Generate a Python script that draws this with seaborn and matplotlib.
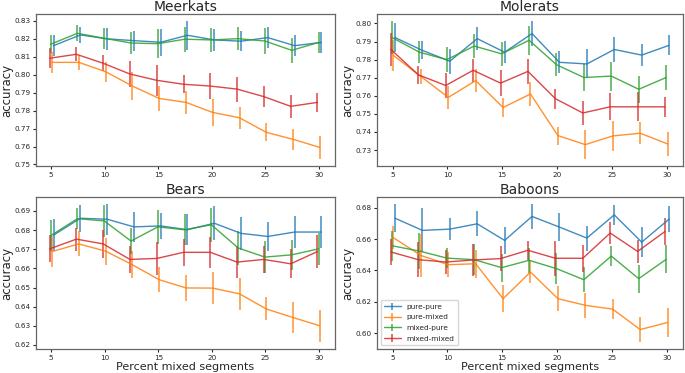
import numpy as np
import seaborn as sns
import matplotlib
matplotlib.use("Agg")
import matplotlib.pyplot as plt

# percent mixed segments
pct = [5, 7.5, 10, 12.5, 15, 17.5, 20, 22.5, 25, 27.5, 30]
series = ['pure-pure', 'pure-mixed', 'mixed-pure', 'mixed-mixed']
titles = ['Meerkats', 'Molerats', 'Bears', 'Baboons']

# mean accuracy per dataset / series
meerkats = {
    'pure-pure':   [0.8162, 0.8222, 0.8200, 0.8190, 0.8181, 0.8220, 0.8194, 0.8187, 0.8207, 0.8162, 0.8180],
    'pure-mixed':  [0.8069, 0.8069, 0.8017, 0.7937, 0.7868, 0.7846, 0.7790, 0.7760, 0.7679, 0.7640, 0.7595],
    'mixed-pure':  [0.8170, 0.8231, 0.8203, 0.8177, 0.8173, 0.8198, 0.8194, 0.8201, 0.8188, 0.8136, 0.8180],
    'mixed-mixed': [0.8092, 0.8114, 0.8064, 0.8004, 0.7969, 0.7947, 0.7937, 0.7920, 0.7878, 0.7824, 0.7846],
}
molerats = {
    'pure-pure':   [0.7922, 0.7851, 0.7791, 0.7916, 0.7841, 0.7944, 0.7785, 0.7776, 0.7856, 0.7825, 0.7879],
    'pure-mixed':  [0.7823, 0.7707, 0.7591, 0.7684, 0.7535, 0.7610, 0.7380, 0.7330, 0.7378, 0.7393, 0.7334],
    'mixed-pure':  [0.7922, 0.7841, 0.7800, 0.7875, 0.7832, 0.7907, 0.7772, 0.7701, 0.7709, 0.7636, 0.7701],
    'mixed-mixed': [0.7856, 0.7716, 0.7657, 0.7741, 0.7670, 0.7735, 0.7584, 0.7505, 0.7539, 0.7539, 0.7539],
}
bears = {
    'pure-pure':   [0.6774, 0.6862, 0.6857, 0.6817, 0.6822, 0.6802, 0.6836, 0.6783, 0.6767, 0.6790, 0.6790],
    'pure-mixed':  [0.6688, 0.6728, 0.6690, 0.6619, 0.6541, 0.6498, 0.6497, 0.6467, 0.6388, 0.6343, 0.6300],
    'mixed-pure':  [0.6771, 0.6860, 0.6848, 0.6743, 0.6817, 0.6802, 0.6828, 0.6707, 0.6659, 0.6671, 0.6702],
    'mixed-mixed': [0.6702, 0.6753, 0.6728, 0.6647, 0.6652, 0.6684, 0.6684, 0.6633, 0.6647, 0.6624, 0.6688],
}
baboons = {
    'pure-pure':   [0.6734, 0.6656, 0.6664, 0.6698, 0.6592, 0.6745, 0.6677, 0.6607, 0.6755, 0.6581, 0.6728],
    'pure-mixed':  [0.6609, 0.6496, 0.6437, 0.6443, 0.6220, 0.6390, 0.6220, 0.6178, 0.6153, 0.6023, 0.6068],
    'mixed-pure':  [0.6558, 0.6524, 0.6479, 0.6469, 0.6418, 0.6465, 0.6412, 0.6341, 0.6492, 0.6348, 0.6471],
    'mixed-mixed': [0.6518, 0.6469, 0.6454, 0.6467, 0.6476, 0.6529, 0.6478, 0.6478, 0.6639, 0.6522, 0.6649],
}

# error bar half widths
meerkats_err = {
    'pure-pure':   [0.0060, 0.0045, 0.0060, 0.0055, 0.0075, 0.0080, 0.0060, 0.0055, 0.0060, 0.0060, 0.0060],
    'pure-mixed':  [0.0060, 0.0040, 0.0055, 0.0080, 0.0070, 0.0065, 0.0075, 0.0060, 0.0050, 0.0060, 0.0065],
    'mixed-pure':  [0.0050, 0.0045, 0.0060, 0.0060, 0.0080, 0.0070, 0.0065, 0.0065, 0.0070, 0.0070, 0.0060],
    'mixed-mixed': [0.0055, 0.0040, 0.0045, 0.0070, 0.0085, 0.0050, 0.0070, 0.0070, 0.0060, 0.0065, 0.0055],
}
molerats_err = {
    'pure-pure':   [0.0080, 0.0050, 0.0070, 0.0065, 0.0060, 0.0070, 0.0060, 0.0080, 0.0070, 0.0060, 0.0055],
    'pure-mixed':  [0.0085, 0.0040, 0.0065, 0.0065, 0.0055, 0.0065, 0.0050, 0.0080, 0.0085, 0.0060, 0.0065],
    'mixed-pure':  [0.0090, 0.0060, 0.0070, 0.0065, 0.0065, 0.0080, 0.0065, 0.0075, 0.0080, 0.0075, 0.0070],
    'mixed-mixed': [0.0090, 0.0050, 0.0070, 0.0065, 0.0070, 0.0070, 0.0055, 0.0065, 0.0075, 0.0080, 0.0055],
}
bears_err = {
    'pure-pure':   [0.0085, 0.0070, 0.0080, 0.0080, 0.0070, 0.0080, 0.0090, 0.0085, 0.0075, 0.0085, 0.0085],
    'pure-mixed':  [0.0080, 0.0065, 0.0070, 0.0070, 0.0065, 0.0070, 0.0085, 0.0085, 0.0060, 0.0080, 0.0085],
    'mixed-pure':  [0.0080, 0.0055, 0.0085, 0.0070, 0.0090, 0.0080, 0.0090, 0.0090, 0.0085, 0.0080, 0.0085],
    'mixed-mixed': [0.0070, 0.0060, 0.0075, 0.0070, 0.0085, 0.0070, 0.0080, 0.0085, 0.0070, 0.0075, 0.0085],
}
baboons_err = {
    'pure-pure':   [0.0090, 0.0140, 0.0070, 0.0080, 0.0085, 0.0080, 0.0090, 0.0080, 0.0065, 0.0095, 0.0085],
    'pure-mixed':  [0.0075, 0.0140, 0.0080, 0.0090, 0.0085, 0.0070, 0.0080, 0.0080, 0.0065, 0.0080, 0.0095],
    'mixed-pure':  [0.0095, 0.0115, 0.0065, 0.0100, 0.0090, 0.0080, 0.0100, 0.0080, 0.0065, 0.0090, 0.0090],
    'mixed-mixed': [0.0085, 0.0110, 0.0075, 0.0100, 0.0080, 0.0060, 0.0110, 0.0085, 0.0070, 0.0075, 0.0085],
}

datasets = [meerkats, molerats, bears, baboons]
errors = [meerkats_err, molerats_err, bears_err, baboons_err]

# small x shift per series so bars don't sit on top of each other
shift = {'pure-pure': 0.22, 'pure-mixed': 0.08, 'mixed-pure': -0.05, 'mixed-mixed': -0.15}

sns.set_style("white")
colors = sns.color_palette("tab10", 4)
plt.rcParams['font.family'] = ['DejaVu Sans']

W, H = 685, 373
fig = plt.figure(figsize=(6.85, 3.73), dpi=100)
# axes boxes in pixels: left, top, right, bottom
boxes = [(36, 14, 335, 166), (377, 14, 683, 166),
         (36, 197, 335, 349), (377, 197, 683, 349)]
axes = []
for (l, t, r, b) in boxes:
    axes.append(fig.add_axes([l / W, 1 - b / H, (r - l) / W, (b - t) / H]))

for i, ax in enumerate(axes):
    data = datasets[i]
    err = errors[i]
    for j, s in enumerate(series):
        x = np.array(pct) + shift[s]
        ax.errorbar(x, data[s], yerr=err[s], color=colors[j], lw=1.0,
                    elinewidth=1.1, alpha=0.85, label=s)
    ax.set_title(titles[i], fontsize=10, pad=2)
    ax.set_ylabel('accuracy', fontsize=8.5, labelpad=1)
    ax.set_xticks([5, 10, 15, 20, 25, 30])
    ax.tick_params(labelsize=5.2, length=2.5, pad=1.5, left=True, bottom=True)
    for sp in ax.spines.values():
        sp.set_color('#666666')
        sp.set_linewidth(0.9)
    if i >= 2:
        ax.set_xlabel('Percent mixed segments', fontsize=8, labelpad=1)

axes[3].legend(loc='lower left', fontsize=5.3, frameon=True,
               handlelength=2.2, borderpad=0.5, labelspacing=0.6)

fig.savefig('out.png', dpi=100)
